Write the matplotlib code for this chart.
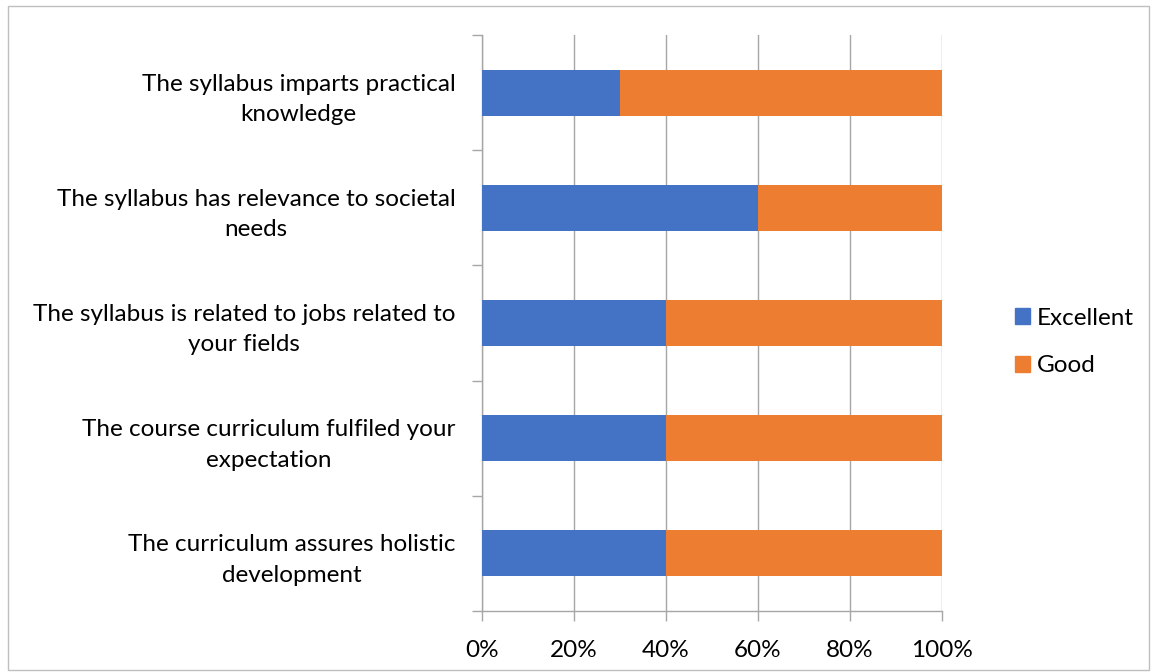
import matplotlib.pyplot as plt
import numpy as np
from matplotlib.patches import Rectangle, Patch

plt.rcParams['font.family'] = ['Lato', 'DejaVu Sans']

# Dane
questions = ['The syllabus imparts practical\nknowledge',
             'The syllabus has relevance to societal\nneeds',
             'The syllabus is related to jobs related to\nyour fields',
             'The course curriculum fulfiled your\nexpectation',
             'The curriculum assures holistic\ndevelopment']
excellent = [30, 60, 40, 40, 40]
good = [70, 40, 60, 60, 60]
x_ticks = [0, 20, 40, 60, 80, 100]

blue = '#4472C4'
orange = '#ED7D31'
grid_c = '#A6A6A6'
fs = 17.5

fig = plt.figure(figsize=(11.53, 6.72), dpi=100)
ax = fig.add_axes([482 / 1153, 1 - 611 / 672, 460 / 1153, 576 / 672])

y = np.arange(len(questions))[::-1]
ax.barh(y, excellent, height=0.4, color=blue, label='Excellent', zorder=3)
ax.barh(y, good, left=excellent, height=0.4, color=orange, label='Good', zorder=3)

ax.set_xlim(0, 100)
ax.set_ylim(-0.5, len(questions) - 0.5)
ax.set_xticks(x_ticks)
ax.set_xticklabels([f'{v}%' for v in x_ticks], fontsize=fs)
ax.grid(axis='x', color=grid_c, linewidth=1, zorder=0)

ax.set_yticks(y)
ax.set_yticklabels(questions, fontsize=fs, multialignment='center', linespacing=1.55)
ax.set_yticks(np.arange(-0.5, len(questions)), minor=True)
ax.tick_params(axis='y', which='major', length=0, pad=19)
ax.tick_params(axis='y', which='minor', length=7, color=grid_c, width=1)
ax.tick_params(axis='x', length=7, color=grid_c, width=1, pad=14)

for s in ['top', 'right']:
    ax.spines[s].set_visible(False)
for s in ['left', 'bottom']:
    ax.spines[s].set_color(grid_c)
    ax.spines[s].set_linewidth(1)

handles = [Patch(color=blue, label='Excellent'), Patch(color=orange, label='Good')]
fig.legend(handles=handles, loc='center left', bbox_to_anchor=(993 / 1153, 1 - 342 / 672),
           frameon=False, fontsize=fs, handlelength=0.62, handleheight=0.62,
           handletextpad=0.3, labelspacing=1.1)

# Ramka wykresu
fig.patches.append(Rectangle((8 / 1153, 2 / 672), 1141 / 1153, 664 / 672, transform=fig.transFigure,
                             fill=False, edgecolor='#BFBFBF', linewidth=1))

fig.savefig('out.png', dpi=100)
